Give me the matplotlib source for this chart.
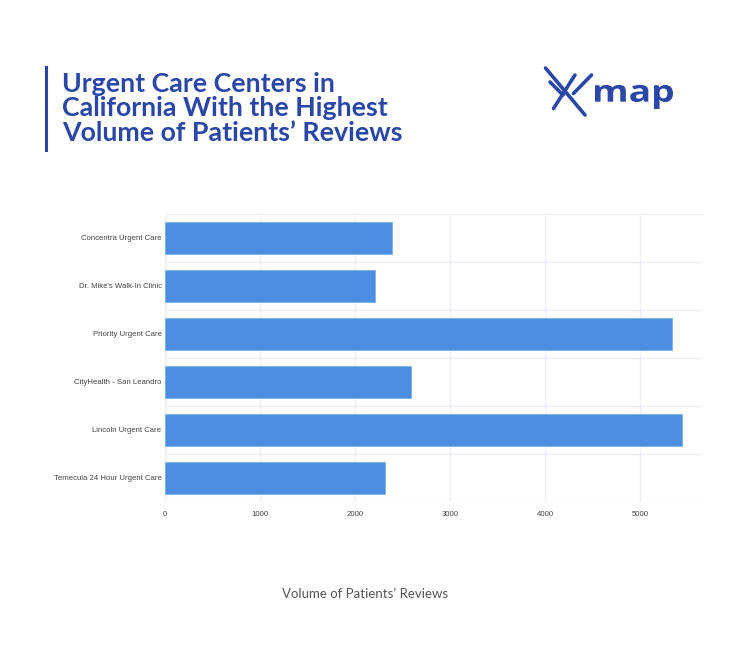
import matplotlib
matplotlib.use("Agg")
import matplotlib.pyplot as plt
from matplotlib.lines import Line2D
from matplotlib.textpath import TextPath
from matplotlib.patches import PathPatch
from matplotlib.font_manager import FontProperties
import matplotlib.transforms as mtransforms

categories = ["Concentra Urgent Care", "Dr. Mike's Walk-In Clinic", "Priority Urgent Care",
              "CityHealth - San Leandro", "Lincoln Urgent Care", "Temecula 24 Hour Urgent Care"]
values = [2384, 2208, 5338, 2588, 5436, 2317]
xticks = [0, 1000, 2000, 3000, 4000, 5000]

W, H = 741, 667
fig = plt.figure(figsize=(W / 100, H / 100), dpi=100)
fig.patch.set_facecolor("white")

def fx(px):
    return px / W

def fy(py):
    return 1 - py / H

TITLE_BLUE = "#2a46a6"
BAR_BLUE = "#4a8ee2"
GRID = "#eceef6"

ax = fig.add_axes([fx(165), fy(502), fx(702) - fx(165), fy(214) - fy(502)])
ypos = list(range(len(categories)))
ax.barh(ypos, values, height=0.65, color=BAR_BLUE, edgecolor="#7fb0ec", linewidth=0.6, zorder=3)
ax.set_ylim(len(categories) - 0.5, -0.5)
ax.set_xlim(0, 5650)
ax.set_yticks(ypos)
ax.set_yticklabels(categories, fontsize=5.6, color="#444444", family="Liberation Sans")
ax.set_xticks(xticks)
ax.set_xticklabels([str(t) for t in xticks], fontsize=5.6, color="#444444", family="Liberation Sans")
ax.tick_params(axis="both", length=0)
ax.tick_params(axis="y", pad=2.5)
ax.tick_params(axis="x", pad=6.5)
for s in ax.spines.values():
    s.set_visible(False)
ax.grid(axis="x", color=GRID, linewidth=1.0, zorder=0)
for b in [i - 0.5 for i in range(len(categories) + 1)]:
    ax.axhline(b, color=GRID, linewidth=1.0, zorder=0)
ax.axvline(0, color=GRID, linewidth=1.0, zorder=0)

# x label
fig.text(fx(365), fy(594), "Volume of Patients\u2019 Reviews", ha="center", va="center",
         fontsize=9.5, color="#555555", family="Lato")

# title bar and title
fig.add_artist(Line2D([fx(46), fx(46)], [fy(67), fy(150)], color=TITLE_BLUE, linewidth=2.2))
title_lines = ["Urgent Care Centers in", "California With the Highest", "Volume of Patients\u2019 Reviews"]
baselines = [92, 116, 141]
for t, b in zip(title_lines, baselines):
    fig.text(fx(62), fy(b), t, ha="left", va="baseline", fontsize=19.3,
             fontweight="bold", color=TITLE_BLUE, family="Lato")

# logo: X mark
segs = [((545.5, 68), (585, 115)), ((550, 82), (563, 95)),
        ((575, 75), (553.5, 108.5)), ((591.5, 75), (573.5, 93.5))]
for (x0, y0), (x1, y1) in segs:
    fig.add_artist(Line2D([fx(x0), fx(x1)], [fy(y0), fy(y1)], color=TITLE_BLUE,
                          linewidth=2.6, solid_capstyle="round"))

# logo: "map" word, stretched to the reference footprint
fp = FontProperties(family="Open Sans", weight="bold")
tp = TextPath((0, 0), "map", size=100, prop=fp)
mp = TextPath((0, 0), "m", size=100, prop=fp)
ext = tp.get_extents()
xh = mp.get_extents().y1
sx = (673 - 595) / (ext.x1 - ext.x0)
sy = 16.8 / xh
tr = (mtransforms.Affine2D().translate(-ext.x0, 0).scale(sx, sy)
      .translate(595, H - 101.7))
patch = PathPatch(tp, transform=tr, facecolor=TITLE_BLUE, edgecolor="none")
fig.add_artist(patch)

fig.savefig("out.png", dpi=100, facecolor="white")
